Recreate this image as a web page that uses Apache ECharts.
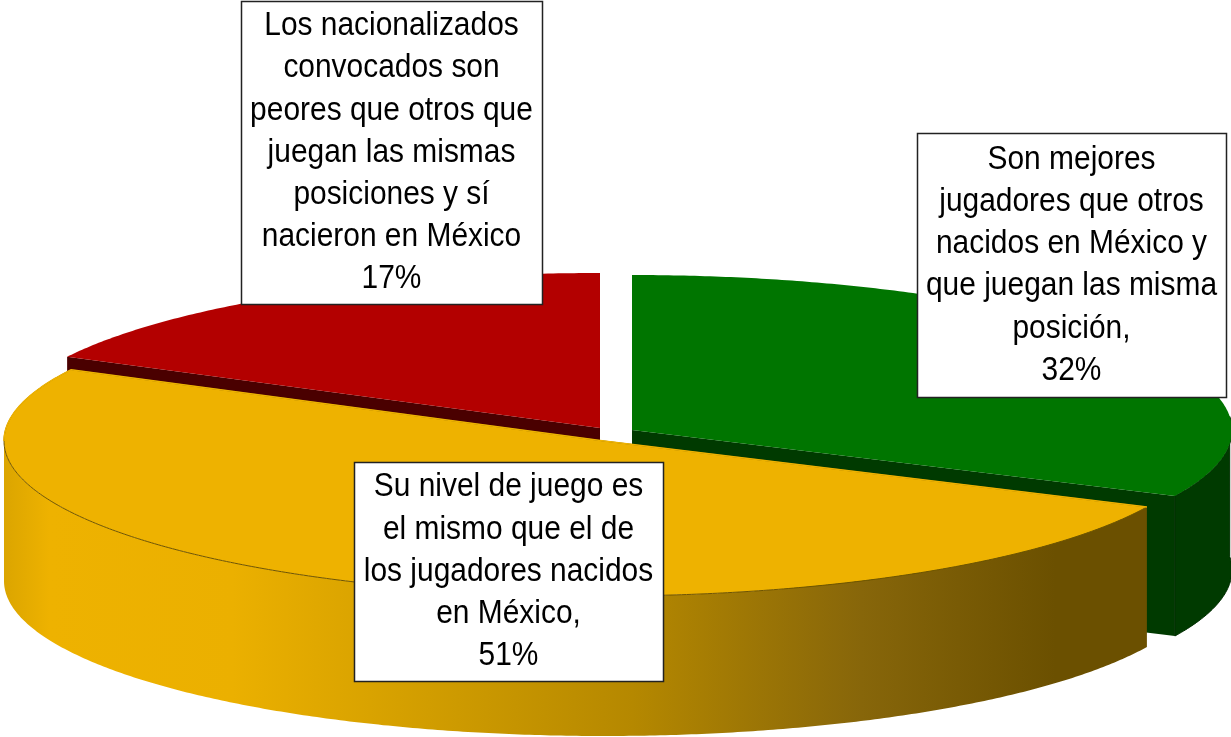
<!DOCTYPE html>
<html>
<head>
    <meta charset="utf-8">
    <title>Nacionalizados</title>
</head>
<body style="margin: 0; background: #fff">
<div id="container" style="width: 1231px; height: 737px"></div>
<script src="https://cdn.jsdelivr.net/npm/echarts@6/dist/echarts.min.js"></script>
<script>
    // los datos, en orden de dibujo: rojo, verde, amarillo
    var sliceValues = [17.4, 32, 50.6];
    var sliceLabels = [
        'Los nacionalizados\nconvocados son\npeores que otros que\njuegan las mismas\nposiciones y sí\nnacieron en México',
        'Son mejores\njugadores que otros\nnacidos en México y\nque juegan las misma\nposición,',
        'Su nivel de juego es\nel mismo que el de\nlos jugadores nacidos\nen México,'
    ];

    // geometria de la elipse
    var RX = 600, RY = 155, DEPTH = 140;
    var centers = [[600, 428], [632, 430], [604, 441]];
    var topColors = ['#b30000', '#007500', '#eeb200'];
    var cutColors = ['#4a0000', '#003a00', '#6b5000'];
    // cajas de texto [x, y, ancho, alto]
    var boxes = [[241, 1, 301, 303], [917, 133, 309, 264], [354, 462, 309, 219]];
    var FONT_SIZE = 34, LINE_H = 42.2, TEXT_SCALE = 0.88;

    var total = sliceValues.reduce(function (a, b) { return a + b; }, 0);

    // rojo va hacia la izquierda desde arriba, los otros en sentido horario
    function sliceAngles(i) {
        var deg = function (v) { return v / total * 360; };
        if (i === 0) return [-deg(sliceValues[0]), 0];
        if (i === 1) return [0, deg(sliceValues[1])];
        return [deg(sliceValues[1]), deg(sliceValues[1]) + deg(sliceValues[2])];
    }

    function pt(c, a, dy) {
        var r = a * Math.PI / 180;
        return [c[0] + RX * Math.sin(r), c[1] - RY * Math.cos(r) + (dy || 0)];
    }

    function arc(c, a0, a1, dy) {
        var res = [];
        var n = Math.ceil(Math.abs(a1 - a0) * 2);
        for (var i = 0; i <= n; i++) {
            res.push(pt(c, a0 + (a1 - a0) * i / n, dy));
        }
        return res;
    }

    var wallGradients = [
        null,
        new echarts.graphic.LinearGradient(1050, 0, 1231, 0, [
            {offset: 0, color: '#003a00'}, {offset: 1, color: '#003a00'}
        ], true),
        new echarts.graphic.LinearGradient(4, 0, 1147, 0, [
            {offset: 0, color: '#dba500'},
            {offset: 0.04, color: '#eeb200'},
            {offset: 0.2, color: '#ebb000'},
            {offset: 0.32, color: '#d9a300'},
            {offset: 0.55, color: '#b58800'},
            {offset: 0.75, color: '#87660a'},
            {offset: 0.92, color: '#6b5000'},
            {offset: 1, color: '#6b5000'}
        ], true)
    ];

    function renderSlice(params, api) {
        var i = params.dataIndex;
        var c = centers[i];
        var ang = sliceAngles(i);
        var children = [];
        var top = arc(c, ang[0], ang[1]).concat([c]);

        // paredes del corte, quedan tapadas en parte por el amarillo
        if (i === 0) {
            children.push({type: 'polygon', shape: {points: [c, pt(c, ang[0]), pt(c, ang[0], DEPTH), [c[0], c[1] + DEPTH]]},
                style: {fill: cutColors[0]}});
        }
        if (i === 1) {
            children.push({type: 'polygon', shape: {points: [c, pt(c, ang[1]), pt(c, ang[1], DEPTH), [c[0], c[1] + DEPTH]]},
                style: {fill: cutColors[1]}});
        }
        // pared exterior
        if (i > 0) {
            var a0 = Math.max(ang[0], 90 - 30 * (i === 1 ? 1 : 3));
            var upper = arc(c, i === 1 ? 85 : ang[0], i === 1 ? ang[1] : Math.min(ang[1], 270));
            var lower = arc(c, i === 1 ? 85 : ang[0], i === 1 ? ang[1] : Math.min(ang[1], 270), DEPTH).reverse();
            children.push({type: 'polygon', shape: {points: upper.concat(lower)},
                style: {fill: wallGradients[i], stroke: i === 1 ? '#002c00' : null, lineWidth: 1}});
        }
        // cara de arriba
        children.push({type: 'polygon', shape: {points: top},
            style: {fill: topColors[i], stroke: i === 2 ? '#6f5400' : null, lineWidth: 1}});
        if (i === 2) {
            // la parte trasera del amarillo sin linea
            children.push({type: 'polyline', shape: {points: arc(c, 270, ang[1]).concat([c, pt(c, ang[0])])},
                style: {stroke: topColors[2], fill: null, lineWidth: 1.5}});
        }
        return {type: 'group', children: children};
    }

    function renderLabel(params, api) {
        var i = params.dataIndex;
        var b = boxes[i];
        var text = sliceLabels[i] + '\n' + Math.round(sliceValues[i]) + '%';
        var lines = text.split('\n');
        var children = [{type: 'rect', shape: {x: b[0] + 0.5, y: b[1] + 0.5, width: b[2], height: b[3]},
            style: {fill: '#fff', stroke: '#222', lineWidth: 1.5}}];
        var startY = b[1] + b[3] / 2 - LINE_H * lines.length / 2 + LINE_H / 2;
        lines.forEach(function (line, k) {
            children.push({type: 'text', x: b[0] + b[2] / 2, y: startY + k * LINE_H, scaleX: TEXT_SCALE,
                style: {text: line, fill: '#000', align: 'center', verticalAlign: 'middle',
                    font: FONT_SIZE + 'px "Liberation Sans", Arial, sans-serif'}});
        });
        return {type: 'group', children: children};
    }

    var myChart = echarts.init(document.getElementById('container'), null, {renderer: 'canvas'});

    var option = {
        backgroundColor: '#fff',
        animation: false,
        series: [
            {
                type: 'custom',
                coordinateSystem: 'none',
                renderItem: renderSlice,
                data: sliceValues,
                silent: true,
                z: 1
            },
            {
                type: 'custom',
                coordinateSystem: 'none',
                renderItem: renderLabel,
                data: sliceValues,
                silent: true,
                z: 2
            }
        ]
    };
    myChart.setOption(option);
</script>
</body>
</html>
